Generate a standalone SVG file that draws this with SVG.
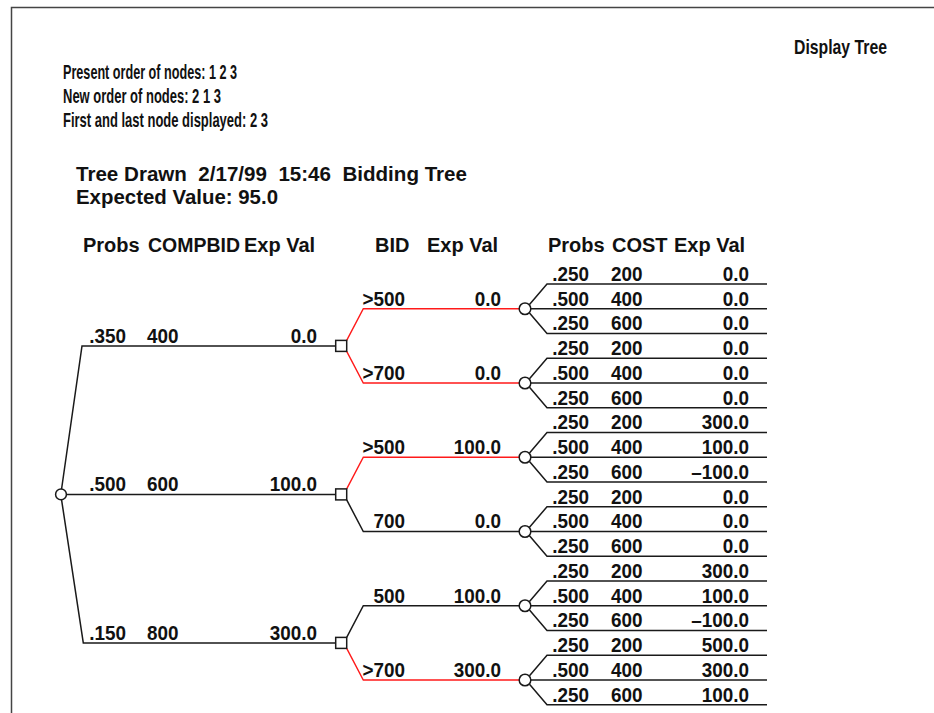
<svg xmlns="http://www.w3.org/2000/svg" width="934" height="713" viewBox="0 0 934 713">
<style>
.t{font-family:"Liberation Sans",Arial,sans-serif;font-weight:bold;font-size:20px;fill:#111}
.h{font-size:21px}
.v{font-size:21px}
.e{text-anchor:end}
.k{stroke:#1a1a1a;stroke-width:1.5;fill:none}
.r{stroke:#ff1a1a;stroke-width:1.4;fill:none}
.n{fill:#fff;stroke:#1a1a1a;stroke-width:1.5}
.frame{stroke:#444;stroke-width:1.5;fill:none}
</style>
<rect width="934" height="713" fill="#fff"/>
<path class="frame" d="M11.5,713 V7.5 H934"/>

<g id="header">
<text class="t h" x="794" y="54" textLength="93" lengthAdjust="spacingAndGlyphs">Display Tree</text>
<text class="t h" x="63" y="79" textLength="174" lengthAdjust="spacingAndGlyphs">Present order of nodes: 1 2 3</text>
<text class="t h" x="63" y="103" textLength="158" lengthAdjust="spacingAndGlyphs">New order of nodes: 2 1 3</text>
<text class="t h" x="63" y="127" textLength="205" lengthAdjust="spacingAndGlyphs">First and last node displayed: 2 3</text>
<text class="t" x="76" y="181" xml:space="preserve" textLength="391" lengthAdjust="spacingAndGlyphs">Tree Drawn  2/17/99  15:46  Bidding Tree</text>
<text class="t" x="76" y="204" textLength="202" lengthAdjust="spacingAndGlyphs">Expected Value: 95.0</text>
</g>

<g id="column-headers" class="t">
<text x="83" y="252">Probs</text>
<text x="148" y="252" textLength="92" lengthAdjust="spacingAndGlyphs">COMPBID</text>
<text x="244" y="252">Exp Val</text>
<text x="375" y="252">BID</text>
<text x="427" y="252">Exp Val</text>
<text x="548" y="252">Probs</text>
<text x="612" y="252">COST</text>
<text x="674" y="252">Exp Val</text>
</g>

<g id="connectors">
<polyline class="k" points="61.5,489.5 82,345.9 335.7,345.9"/>
<polyline class="k" points="66.8,494.4 335.7,494.4"/>
<polyline class="k" points="61.5,499.3 83.3,642.9 335.7,642.9"/>
<polyline class="r" points="346.7,340.4 363.3,308.75 519,308.75"/>
<polyline class="r" points="346.7,351.4 363.3,383 519,383"/>
<polyline class="r" points="346.7,488.9 363.3,457.25 519,457.25"/>
<polyline class="k" points="346.7,499.9 363.3,531.5 519,531.5"/>
<polyline class="k" points="346.7,637.4 363.3,605.75 519,605.75"/>
<polyline class="r" points="346.7,648.4 363.3,680 519,680"/>
<g id="outcomes-c1"><polyline class="k" points="529.5,304.5 547,284 767,284"/><polyline class="k" points="531,308.75 767,308.75"/><polyline class="k" points="529.5,313 547,333.5 767,333.5"/></g>
<g id="outcomes-c2"><polyline class="k" points="529.5,378.75 547,358.25 767,358.25"/><polyline class="k" points="531,383 767,383"/><polyline class="k" points="529.5,387.25 547,407.75 767,407.75"/></g>
<g id="outcomes-c3"><polyline class="k" points="529.5,453 547,432.5 767,432.5"/><polyline class="k" points="531,457.25 767,457.25"/><polyline class="k" points="529.5,461.5 547,482 767,482"/></g>
<g id="outcomes-c4"><polyline class="k" points="529.5,527.25 547,506.75 767,506.75"/><polyline class="k" points="531,531.5 767,531.5"/><polyline class="k" points="529.5,535.75 547,556.25 767,556.25"/></g>
<g id="outcomes-c5"><polyline class="k" points="529.5,601.5 547,581 767,581"/><polyline class="k" points="531,605.75 767,605.75"/><polyline class="k" points="529.5,610 547,630.5 767,630.5"/></g>
<g id="outcomes-c6"><polyline class="k" points="529.5,675.75 547,655.25 767,655.25"/><polyline class="k" points="531,680 767,680"/><polyline class="k" points="529.5,684.25 547,704.75 767,704.75"/></g>
</g>

<g id="root"><circle class="n" cx="61" cy="494.4" r="5.4"/></g>
<g id="decision-1"><rect class="n" x="335.7" y="340.4" width="11" height="11"/></g>
<g id="decision-2"><rect class="n" x="335.7" y="488.9" width="11" height="11"/></g>
<g id="decision-3"><rect class="n" x="335.7" y="637.4" width="11" height="11"/></g>
<g id="chance-1"><circle class="n" cx="525" cy="308.75" r="5.8"/></g>
<g id="chance-2"><circle class="n" cx="525" cy="383" r="5.8"/></g>
<g id="chance-3"><circle class="n" cx="525" cy="457.25" r="5.8"/></g>
<g id="chance-4"><circle class="n" cx="525" cy="531.5" r="5.8"/></g>
<g id="chance-5"><circle class="n" cx="525" cy="605.75" r="5.8"/></g>
<g id="chance-6"><circle class="n" cx="525" cy="680" r="5.8"/></g>

<g id="compbid-labels" class="t v">
<g class="e" transform="translate(126,0) scale(0.9,1)"><text x="0" y="343">.350</text><text x="0" y="491.5">.500</text><text x="0" y="640">.150</text></g>
<g transform="translate(147,0) scale(0.9,1)"><text x="0" y="343">400</text><text x="0" y="491.5">600</text><text x="0" y="640">800</text></g>
<g class="e" transform="translate(317,0) scale(0.9,1)"><text x="0" y="343">0.0</text><text x="0" y="491.5">100.0</text><text x="0" y="640">300.0</text></g>
</g>

<g id="bid-labels" class="t v">
<g class="e" transform="translate(405,0) scale(0.9,1)">
<text x="0" y="306">&gt;500</text><text x="0" y="380">&gt;700</text><text x="0" y="454.3">&gt;500</text><text x="0" y="528.5">700</text><text x="0" y="602.8">500</text><text x="0" y="677">&gt;700</text>
</g>
<g class="e" transform="translate(501,0) scale(0.9,1)">
<text x="0" y="306">0.0</text><text x="0" y="380">0.0</text><text x="0" y="454.3">100.0</text><text x="0" y="528.5">0.0</text><text x="0" y="602.8">100.0</text><text x="0" y="677">300.0</text>
</g>
</g>

<g id="cost-labels" class="t v">
<g class="e" transform="translate(589,0) scale(0.9,1)">
<text x="0" y="281">.250</text><text x="0" y="305.8">.500</text><text x="0" y="330.5">.250</text>
<text x="0" y="355.3">.250</text><text x="0" y="380">.500</text><text x="0" y="404.8">.250</text>
<text x="0" y="429.5">.250</text><text x="0" y="454.3">.500</text><text x="0" y="479">.250</text>
<text x="0" y="503.8">.250</text><text x="0" y="528.5">.500</text><text x="0" y="553.3">.250</text>
<text x="0" y="578">.250</text><text x="0" y="602.8">.500</text><text x="0" y="627.5">.250</text>
<text x="0" y="652.3">.250</text><text x="0" y="677">.500</text><text x="0" y="701.8">.250</text>
</g>
<g transform="translate(611,0) scale(0.9,1)">
<text x="0" y="281">200</text><text x="0" y="305.8">400</text><text x="0" y="330.5">600</text>
<text x="0" y="355.3">200</text><text x="0" y="380">400</text><text x="0" y="404.8">600</text>
<text x="0" y="429.5">200</text><text x="0" y="454.3">400</text><text x="0" y="479">600</text>
<text x="0" y="503.8">200</text><text x="0" y="528.5">400</text><text x="0" y="553.3">600</text>
<text x="0" y="578">200</text><text x="0" y="602.8">400</text><text x="0" y="627.5">600</text>
<text x="0" y="652.3">200</text><text x="0" y="677">400</text><text x="0" y="701.8">600</text>
</g>
<g class="e" transform="translate(749,0) scale(0.9,1)">
<text x="0" y="281">0.0</text><text x="0" y="305.8">0.0</text><text x="0" y="330.5">0.0</text>
<text x="0" y="355.3">0.0</text><text x="0" y="380">0.0</text><text x="0" y="404.8">0.0</text>
<text x="0" y="429.5">300.0</text><text x="0" y="454.3">100.0</text><text x="0" y="479">–100.0</text>
<text x="0" y="503.8">0.0</text><text x="0" y="528.5">0.0</text><text x="0" y="553.3">0.0</text>
<text x="0" y="578">300.0</text><text x="0" y="602.8">100.0</text><text x="0" y="627.5">–100.0</text>
<text x="0" y="652.3">500.0</text><text x="0" y="677">300.0</text><text x="0" y="701.8">100.0</text>
</g>
</g>
</svg>
